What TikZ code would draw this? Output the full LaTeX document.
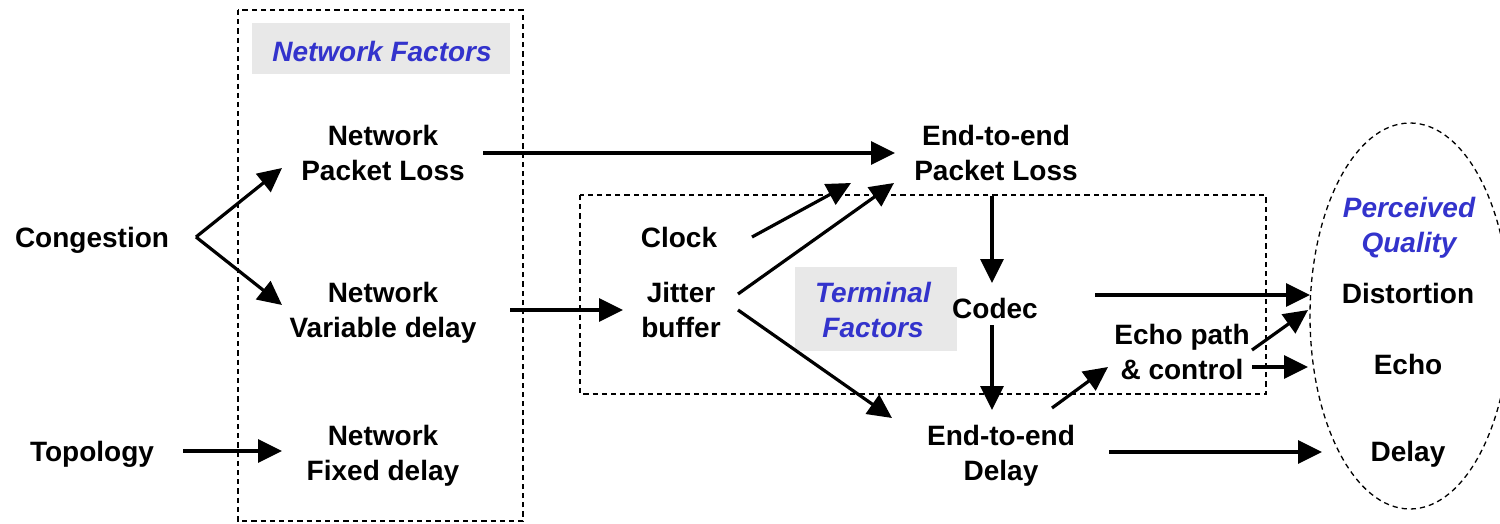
\documentclass[tikz,border=0pt]{standalone}
\usepackage{fontspec}
\setmainfont{Liberation Sans}
\usetikzlibrary{arrows.meta,calc}
\definecolor{lblue}{RGB}{51,51,204}
\definecolor{lgray}{RGB}{232,232,232}
\tikzset{
  lbl/.style={align=center,inner sep=0pt,font=\fontsize{14}{17.5}\selectfont\bfseries},
  ttl/.style={align=center,inner sep=0pt,text=lblue,font=\fontsize{14}{17.5}\selectfont\bfseries\itshape},
  arr/.style={line width=1.6pt,-{Triangle[length=12pt,width=11.5pt]}},
  dbox/.style={draw,line width=0.65pt,dash pattern=on 2.6pt off 2pt},
  gbox/.style={fill=lgray,draw=none}
}
\begin{document}
\begin{tikzpicture}[x=0.5pt,y=-0.5pt]
\useasboundingbox (0,0) rectangle (1500,524);
% dashed frames
\draw[dbox] (238,10) rectangle (523,521);
\draw[dbox] (580,195) rectangle (1266,394);
\draw[dbox] (1410,316) ellipse [x radius=100, y radius=193];
% gray title boxes
\fill[gbox] (252,23) rectangle (510,74);
\fill[gbox] (795,267) rectangle (957,351);
\node[ttl] (nf) at (382,51) {Network Factors};
\node[ttl] (tf) at (873,310) {Terminal\\Factors};
\node[ttl] (pq) at (1409,228) {Perceived\\Quality};
% nodes
\node[lbl] (cong) at (92,240) {Congestion};
\node[lbl] (topo) at (92,454) {Topology};
\node[lbl] (npl) at (383,153) {Network\\Packet Loss};
\node[lbl] (nvd) at (383,313) {Network\\Variable delay};
\node[lbl] (nfd) at (383,456) {Network\\Fixed delay};
\node[lbl] (epl) at (996,153) {End-to-end\\Packet Loss};
\node[lbl] (clock) at (679,237) {Clock};
\node[lbl] (jit) at (681,310) {Jitter\\buffer};
\node[lbl] (codec) at (995,308) {Codec};
\node[lbl] (echo) at (1182,352) {Echo path\\\& control};
\node[lbl] (edl) at (1001,456) {End-to-end\\Delay};
\node[lbl] (dist) at (1408,293) {Distortion};
\node[lbl] (ech) at (1408,364) {Echo};
\node[lbl] (dly) at (1408,454) {Delay};
% connectors
\coordinate (fork) at ($(cong)+(104,-3)$);
\draw[arr] (fork) -- ($(npl)+(-101,15)$);
\draw[arr] (fork) -- ($(nvd)+(-101,-8)$);
\draw[arr] ($(topo)+(91,-3)$) -- ($(nfd)+(-101,-5)$);
\draw[arr] ($(npl)+(100,0)$) -- ($(epl)+(-101,0)$);
\draw[arr] ($(nvd)+(127,-3)$) -- ($(jit)+(-58,0)$);
\draw[arr] ($(clock)+(73,0)$) -- ($(epl)+(-145,30)$);
\draw[arr] ($(jit)+(57,-16)$) -- ($(epl)+(-102,30)$);
\draw[arr] ($(jit)+(57,0)$) -- ($(edl)+(-109,-38)$);
\draw[arr] ($(epl)+(-4,43)$) -- ($(codec)+(-3,-25)$);
\draw[arr] ($(codec)+(-3,17)$) -- ($(edl)+(-9,-46)$);
\draw[arr] ($(codec)+(100,-13)$) -- ($(dist)+(-98,2)$);
\draw[arr] ($(edl)+(51,-48)$) -- ($(echo)+(-74,15)$);
\draw[arr] ($(echo)+(70,-2)$) -- ($(dist)+(-100,17)$);
\draw[arr] ($(echo)+(70,15)$) -- ($(ech)+(-100,3)$);
\draw[arr] ($(edl)+(108,-4)$) -- ($(dly)+(-86,-2)$);
\end{tikzpicture}
\end{document}
